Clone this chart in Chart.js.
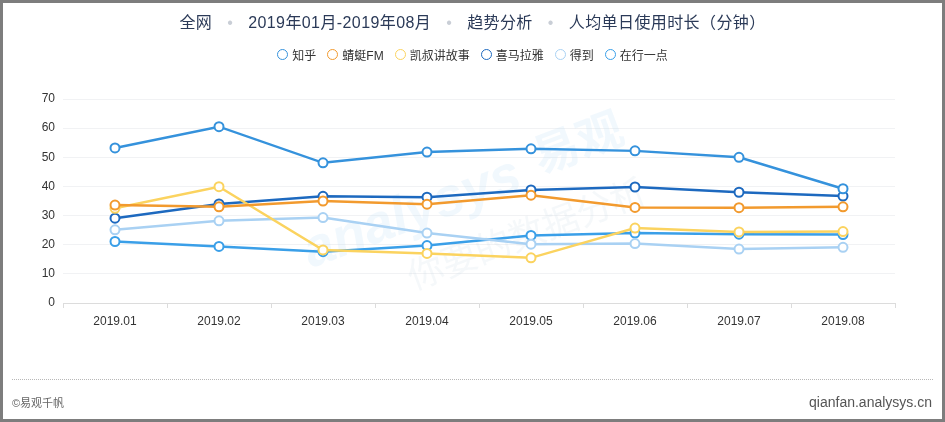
<!DOCTYPE html>
<html>
<head>
<meta charset="utf-8">
<script src="https://cdn.jsdelivr.net/npm/chart.js@4.4.1/dist/chart.umd.min.js"></script>
<style>
  html, body { margin: 0; padding: 0; background: #fff; }
  body { width: 945px; height: 422px; position: relative; overflow: hidden;
         font-family: "Liberation Sans", "Noto Sans CJK SC", sans-serif; }
  #frame { position: absolute; left: 0; top: 0; width: 945px; height: 422px;
           box-sizing: border-box; border: 3px solid #7d7d7d; pointer-events: none; z-index: 5; }
  #title { position: absolute; left: 0; top: 9px; width: 945px; text-align: center;
           font-size: 16px; color: #2b3a58; white-space: nowrap; letter-spacing: 0.4px; }
  #title .sep { color: #c9ced6; margin: 0 15px; }
  #legend { position: absolute; left: 0; top: 46px; width: 945px; display: flex;
            justify-content: center; align-items: center; font-size: 12px; color: #333; }
  #legend .item { display: flex; align-items: center; margin: 0 5.5px; }
  #legend .dot { width: 9px; height: 9px; border-radius: 50%; border: 1.6px solid; margin-right: 4px; background: #fff; }
  #chartBox { position: absolute; left: 0; top: 0; width: 945px; height: 422px; }
  #footline { position: absolute; left: 12px; right: 12px; top: 379px; border-top: 1px dotted #b8b8b8; }
  #footL { position: absolute; left: 12px; top: 394px; font-size: 11px; color: #666; }
  #footR { position: absolute; right: 13px; top: 394px; font-size: 14px; color: #555; }
</style>
</head>
<body>
<div id="chartBox"><canvas id="c"></canvas></div>
<div id="title"></div>
<div id="legend"></div>
<div id="footline"></div>
<div id="footL">©易观千帆</div>
<div id="footR">qianfan.analysys.cn</div>
<div id="frame"></div>
<script>
// ---- data ----
const titleParts = ['全网', '2019年01月-2019年08月', '趋势分析', '人均单日使用时长（分钟）'];
const categories = ['2019.01', '2019.02', '2019.03', '2019.04', '2019.05', '2019.06', '2019.07', '2019.08'];
const seriesNames = ['知乎', '蜻蜓FM', '凯叔讲故事', '喜马拉雅', '得到', '在行一点'];
const zhihu    = [53.2, 60.5, 48.1, 51.8, 52.9, 52.2, 50.0, 39.2];
const qingting = [33.6, 33.0, 35.0, 33.9, 37.0, 32.8, 32.7, 33.0];
const kaishu   = [32.5, 39.9, 18.2, 17.0, 15.5, 25.7, 24.4, 24.5];
const ximalaya = [29.1, 34.0, 36.6, 36.3, 38.8, 39.8, 38.0, 36.7];
const dedao    = [25.1, 28.2, 29.3, 24.0, 20.2, 20.4, 18.5, 19.1];
const zaixing  = [21.1, 19.4, 17.6, 19.7, 23.2, 24.0, 23.6, 23.5];
const yTicks = [0, 10, 20, 30, 40, 50, 60, 70];

const seriesValues = [zhihu, qingting, kaishu, ximalaya, dedao, zaixing];
const colors = ['#3592dc', '#f29a2e', '#fbd35f', '#1d69bf', '#a9d1f3', '#3a9fe8'];

// title
document.getElementById('title').innerHTML =
  titleParts.map(t => '<span>' + t + '</span>').join('<span class="sep">•</span>');
// legend
document.getElementById('legend').innerHTML = seriesNames.map((n, i) =>
  '<div class="item"><span class="dot" style="border-color:' + colors[i] + '"></span>' + n + '</div>').join('');

const watermark = {
  id: 'watermark',
  beforeDatasetsDraw(chart) {
    const ctx = chart.ctx;
    ctx.save();
    ctx.translate(450, 200);
    ctx.rotate(-0.36);
    ctx.font = 'italic bold 54px "Liberation Sans", sans-serif';
    ctx.fillStyle = 'rgba(190,222,246,0.22)';
    ctx.textAlign = 'center';
    ctx.textBaseline = 'middle';
    ctx.fillText('analysys', -40, 0);
    ctx.font = 'bold 46px "Noto Sans CJK SC", sans-serif';
    ctx.fillText('易观', 140, -10);
    ctx.font = '36px "Noto Sans CJK SC", sans-serif';
    ctx.fillStyle = 'rgba(200,215,230,0.18)';
    ctx.fillText('你要的数据分析', 60, 58);
    ctx.restore();
  }
};

new Chart(document.getElementById('c'), {
  type: 'line',
  data: {
    labels: categories,
    datasets: seriesNames.map((n, i) => ({
      label: n,
      data: seriesValues[i],
      borderColor: colors[i],
      backgroundColor: '#fff',
      pointBackgroundColor: '#fff',
      pointBorderColor: colors[i],
      pointRadius: 4.5,
      pointBorderWidth: 2,
      borderWidth: 2.5,
      tension: 0,
      fill: false
    }))
  },
  options: {
    responsive: true,
    maintainAspectRatio: false,
    animation: false,
    layout: { padding: { top: 99, right: 50, left: 0, bottom: 0 } },
    plugins: { legend: { display: false }, title: { display: false }, tooltip: { enabled: false } },
    scales: {
      x: {
        type: 'category',
        offset: true,
        grid: { display: true, drawOnChartArea: false, drawTicks: true, tickLength: 5, color: '#dcdcdc', offset: true },
        border: { display: true, color: '#dcdcdc', width: 1 },
        ticks: { color: '#333', font: { size: 12, family: '"Liberation Sans", sans-serif' }, padding: 6, maxRotation: 0 },
        afterFit(s) { s.height = 119; }
      },
      y: {
        min: 0, max: 70,
        afterBuildTicks(s) { s.ticks = yTicks.map(v => ({ value: v })); },
        grid: { color: '#f1f2f4', drawTicks: false, lineWidth: 1 },
        border: { display: false },
        ticks: { color: '#333', font: { size: 12, family: '"Liberation Sans", sans-serif' }, padding: 8 },
        afterFit(s) { s.width = 63; }
      }
    }
  },
  plugins: [watermark]
});
</script>
</body>
</html>
